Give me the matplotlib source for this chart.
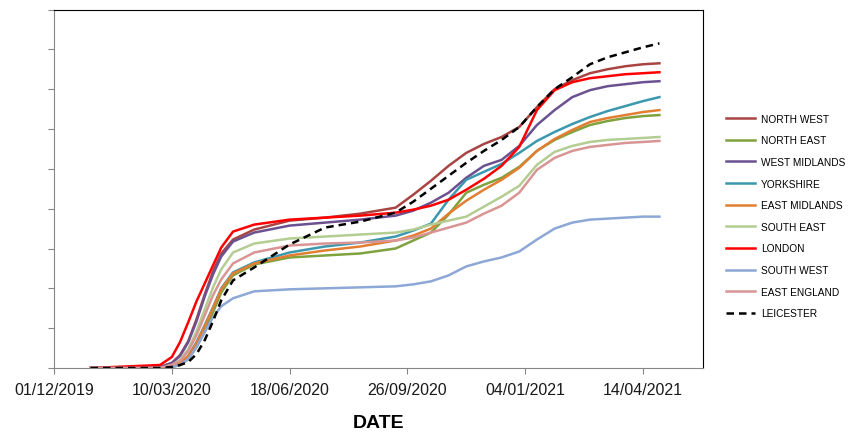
import pandas as pd
import matplotlib.pyplot as plt
import matplotlib.dates as mdates

# cumulative values per region (y axis has no labels, arbitrary units)
dates = pd.to_datetime([
    "2020-01-01", "2020-02-29", "2020-03-10", "2020-03-17", "2020-03-24",
    "2020-03-31", "2020-04-07", "2020-04-14", "2020-04-21", "2020-05-01",
    "2020-05-19", "2020-06-18", "2020-07-18", "2020-08-17", "2020-09-16",
    "2020-10-01", "2020-10-16", "2020-10-31", "2020-11-15", "2020-11-30",
    "2020-12-15", "2020-12-30", "2021-01-14", "2021-01-29", "2021-02-13",
    "2021-02-28", "2021-03-15", "2021-03-30", "2021-04-14", "2021-04-28",
])

north_west = [0, 1, 5, 13, 27, 49, 74, 97, 115, 129, 139, 148, 151, 155, 161,
              174, 188, 203, 216, 225, 232, 242, 262, 280, 289, 296, 300, 303, 305, 306]
north_east = [0, 0, 1, 3, 9, 21, 37, 56, 76, 93, 104, 111, 113, 115, 120,
              128, 136, 154, 176, 184, 191, 202, 218, 229, 237, 244, 248, 251, 253, 254]
west_midlands = [0, 1, 5, 12, 26, 47, 72, 94, 112, 127, 136, 143, 146, 149, 153,
                 158, 166, 176, 191, 203, 209, 223, 244, 259, 272, 279, 283, 285, 287, 288]
yorkshire = [0, 0, 2, 5, 12, 26, 43, 61, 80, 96, 106, 116, 122, 126, 132,
             138, 145, 169, 189, 197, 205, 216, 228, 237, 245, 252, 258, 263, 268, 272]
east_midlands = [0, 0, 2, 5, 12, 25, 42, 60, 79, 95, 105, 113, 118, 122, 128,
                 133, 140, 155, 168, 179, 189, 201, 218, 230, 239, 247, 251, 254, 257, 259]
south_east = [0, 0, 3, 8, 19, 37, 59, 81, 99, 116, 125, 130, 132, 134, 136,
              139, 144, 148, 152, 162, 172, 183, 204, 217, 223, 227, 229, 230, 231, 232]
london = [0, 3, 11, 26, 46, 67, 85, 103, 121, 137, 144, 149, 151, 153, 156,
          159, 163, 169, 179, 190, 203, 222, 259, 279, 287, 291, 293, 295, 296, 297]
south_west = [0, 0, 1, 3, 9, 21, 36, 51, 62, 70, 77, 79, 80, 81, 82,
              84, 87, 93, 102, 107, 111, 117, 129, 140, 146, 149, 150, 151, 152, 152]
east_england = [0, 0, 3, 7, 17, 33, 53, 73, 89, 105, 116, 123, 125, 126, 128,
                131, 136, 141, 146, 155, 163, 176, 199, 211, 218, 222, 224, 226, 227, 228]
leicester = [0, 0, 1, 3, 6, 14, 28, 47, 68, 88, 101, 124, 141, 147, 156,
             167, 180, 193, 206, 218, 229, 242, 262, 280, 292, 305, 312, 317, 322, 326]

series = [
    ("NORTH WEST", north_west, "#A84543", "-"),
    ("NORTH EAST", north_east, "#7FA23E", "-"),
    ("WEST MIDLANDS", west_midlands, "#6B5190", "-"),
    ("YORKSHIRE", yorkshire, "#3B98AF", "-"),
    ("EAST MIDLANDS", east_midlands, "#E27E32", "-"),
    ("SOUTH EAST", south_east, "#B3CD92", "-"),
    ("LONDON", london, "#FF0000", "-"),
    ("SOUTH WEST", south_west, "#8DA7D6", "-"),
    ("EAST ENGLAND", east_england, "#D89594", "-"),
    ("LEICESTER", leicester, "#000000", "--"),
]

plt.rcParams["font.family"] = ["Liberation Sans", "DejaVu Sans"]

fig = plt.figure(figsize=(8.51, 4.35), dpi=100)
ax = fig.add_axes([54 / 851, 1 - 369 / 435, (703 - 54) / 851, (369 - 10.5) / 435])

for name, values, color, style in series:
    ax.plot(dates, values, color=color, linestyle=style, linewidth=1.8,
            label=name, dashes=(3, 2) if style == "--" else (None, None))

start = pd.Timestamp("2019-12-01")
ax.set_xlim(start, pd.Timestamp("2021-06-04"))
ax.set_xticks([start + pd.Timedelta(days=100 * i) for i in range(6)])
ax.xaxis.set_major_formatter(mdates.DateFormatter("%d/%m/%Y"))
ax.set_ylim(0, 360)
ax.set_yticks(range(0, 361, 40))
ax.set_yticklabels([])

ax.tick_params(axis="both", direction="out", length=4, color="#868686",
               labelsize=11.5, labelcolor="#1a1a1a")
ax.tick_params(axis="x", pad=6)
for side in ["left", "bottom"]:
    ax.spines[side].set_color("#868686")
for side in ["top", "right"]:
    ax.spines[side].set_color("black")

ax.set_xlabel("DATE", fontsize=14, fontweight="bold", labelpad=12)

fig.legend(loc="center left", bbox_to_anchor=(726 / 851, 1 - 217 / 435),
           frameon=False, fontsize=7.3, handlelength=2.9, handletextpad=0.55,
           labelspacing=1.15, borderpad=0, borderaxespad=0)

plt.savefig("out.png", dpi=100)
